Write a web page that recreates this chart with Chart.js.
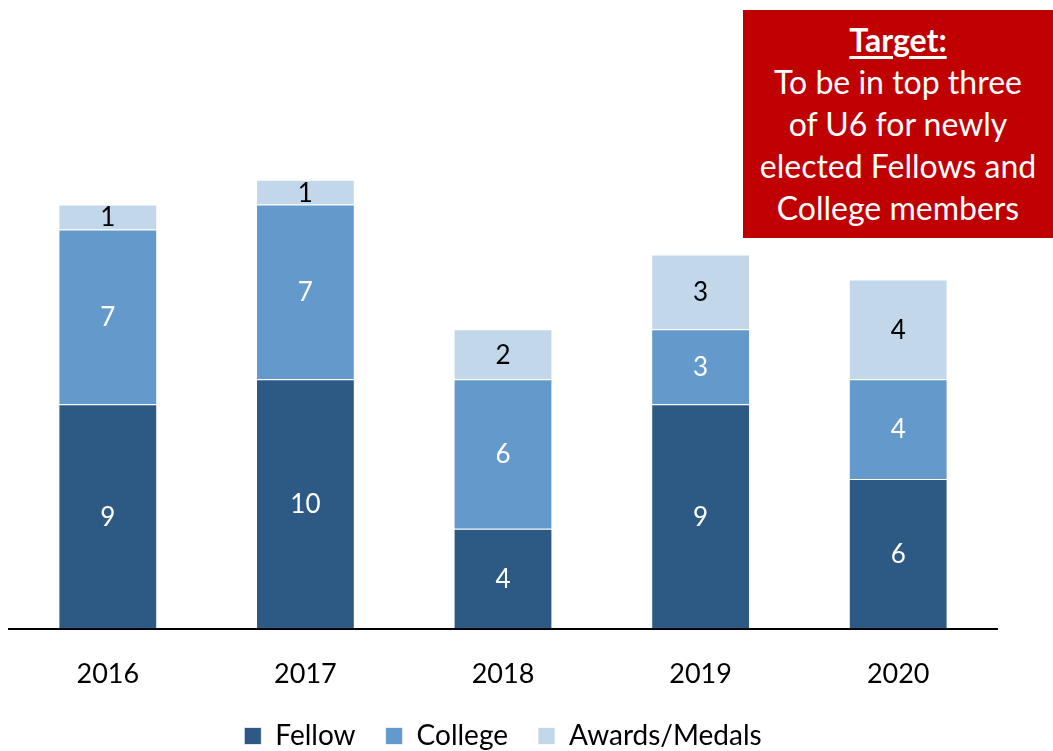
<!DOCTYPE html>
<html>
<head>
<meta charset="utf-8">
<script src="https://cdn.jsdelivr.net/npm/chart.js@4"></script>
<style>
  html, body { margin: 0; padding: 0; background: #fff; }
  #wrap { position: relative; width: 1053px; height: 751px; }
  #target {
    position: absolute; left: 743px; top: 10px; width: 310px; height: 228px;
    background: #C00000; color: #fff; font-family: Lato, sans-serif;
    font-size: 32px; line-height: 42px; text-align: center; padding-top: 9px;
    box-sizing: border-box;
  }
  #target b { text-decoration: underline; text-decoration-thickness: 3px; text-underline-offset: 4px; }
</style>
</head>
<body>
<div id="wrap">
  <canvas id="chart" width="1053" height="751"></canvas>
  <div id="target"><b>Target:</b><br>To be in top three<br>of U6 for newly<br>elected Fellows and<br>College members</div>
</div>
<script>
// ── Data ───────────────────────────────────────────────────────
const years   = ['2016', '2017', '2018', '2019', '2020'];
const fellow  = [9, 10, 4, 9, 6];
const college = [7, 7, 6, 3, 4];
const awards  = [1, 1, 2, 3, 4];

// ── Labels in the middle of each segment ───────────────────────
const segmentLabels = {
  id: 'segmentLabels',
  afterDatasetsDraw(chart) {
    const ctx = chart.ctx;
    ctx.save();
    ctx.font = '26px Lato, sans-serif';
    ctx.textAlign = 'center';
    ctx.textBaseline = 'middle';
    chart.data.datasets.forEach((ds, i) => {
      const meta = chart.getDatasetMeta(i);
      ctx.fillStyle = ds.labelColor;
      meta.data.forEach((bar, j) => {
        const mid = (bar.y + bar.base) / 2;
        ctx.fillText(String(ds.data[j]), bar.x, mid + 1);
      });
    });
    ctx.restore();
  }
};

new Chart(document.getElementById('chart'), {
  type: 'bar',
  data: {
    labels: years,
    datasets: [
      { label: 'Fellow', data: fellow, backgroundColor: '#2C5A84', labelColor: '#fff' },
      { label: 'College', data: college, backgroundColor: '#6399CB', labelColor: '#fff' },
      { label: 'Awards/Medals', data: awards, backgroundColor: '#C3D7EA', labelColor: '#000' }
    ]
  },
  options: {
    responsive: false,
    animation: false,
    datasets: {
      bar: {
        categoryPercentage: 1,
        barPercentage: 0.5,
        borderColor: 'rgba(255,255,255,0.7)',
        borderWidth: 1
      }
    },
    layout: { padding: { left: 9, right: 56, top: 30, bottom: -9 } },
    plugins: {
      legend: {
        position: 'bottom',
        labels: {
          color: '#000',
          font: { family: 'Lato, sans-serif', size: 28 },
          boxWidth: 17,
          boxHeight: 17,
          padding: 30
        }
      },
      tooltip: { enabled: false }
    },
    scales: {
      x: {
        stacked: true,
        grid: { display: false },
        border: { display: true, color: '#000', width: 2 },
        ticks: { color: '#000', font: { family: 'Lato, sans-serif', size: 27 }, padding: 21 },
        afterFit(scale) { scale.height -= 19; }
      },
      y: {
        stacked: true,
        display: false,
        min: 0,
        max: 24
      }
    }
  },
  plugins: [segmentLabels]
});
</script>
</body>
</html>
